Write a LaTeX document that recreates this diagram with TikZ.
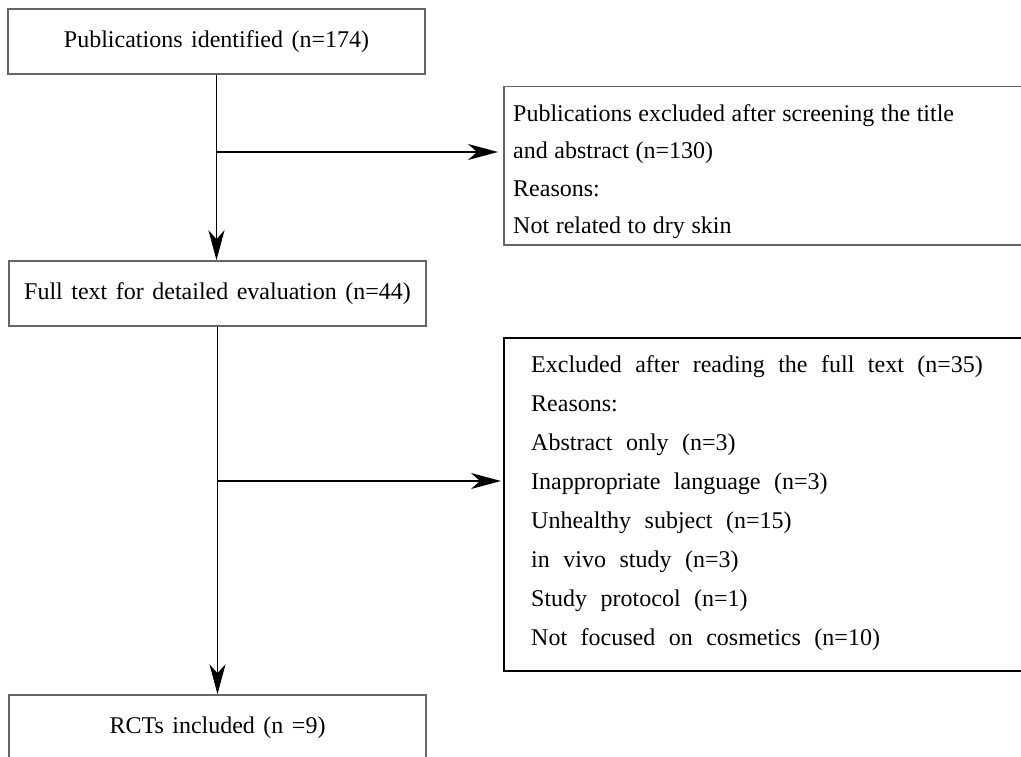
\documentclass[tikz,border=0pt]{standalone}
\usepackage{fontspec}
\setmainfont{Liberation Serif}
\usetikzlibrary{arrows.meta}
\newcommand\spLeft{\spaceskip=8.5pt plus 1pt\relax}
\newcommand\spRa{\spaceskip=6.6pt plus 1pt\relax}
\newcommand\spRb{\spaceskip=13.5pt plus 1pt\relax}
\begin{document}
\begin{tikzpicture}[x=1pt,y=-1pt,
  box/.style={draw=black!60, line width=1.5pt, minimum width=417pt, minimum height=65pt, inner sep=0pt, font=\fontsize{24}{28}\selectfont\spLeft},
  side/.style={draw=black!60, line width=1.5pt, inner sep=0pt},
  txt/.style={align=left, inner sep=0pt},
  arr/.style={line width=1.3pt, -{Stealth[length=30pt,width=16pt,inset=9pt]}}]
\clip (0,0) rectangle (1021,757);
\node[box] (b1) at (216.5,41.5) {Publications identified (n=174)};
\node[box] (b2) at (217.5,293.5) {Full text for detailed evaluation (n=44)};
\node[box] (b3) at (217.5,727.5) {RCTs included (n =9)};
\node[side, minimum width=530pt, minimum height=158pt, anchor=north west] (r1) at (503,86) {};
\node[txt, anchor=base west, font=\fontsize{24}{37.5}\selectfont\spRa] (t1) at (513,233.5)
  {Publications excluded after screening the title\\and abstract (n=130)\\Reasons:\\Not related to dry skin};
\node[side, draw=black, line width=2pt, minimum width=530pt, minimum height=333pt, anchor=north west] (r2) at (503,337) {};
\node[txt, anchor=base west, font=\fontsize{24}{39}\selectfont\spRb] (t2) at (531,645)
  {Excluded after reading the full text (n=35)\\Reasons:\\Abstract only (n=3)\\Inappropriate language (n=3)\\Unhealthy subject (n=15)\\in vivo study (n=3)\\Study protocol (n=1)\\Not focused on cosmetics (n=10)};
\draw[arr] (b1.south) -- (b1.south |- b2.north);
\coordinate (j1) at (216.5,152);
\draw[arr, shorten >=5pt] (j1) -- (j1 -| r1.west);
\draw[arr] (b2.south) -- (b3.north);
\coordinate (j2) at (217.5,481);
\draw[arr, shorten >=2pt] (j2) -- (j2 -| r2.west);
\end{tikzpicture}
\end{document}
